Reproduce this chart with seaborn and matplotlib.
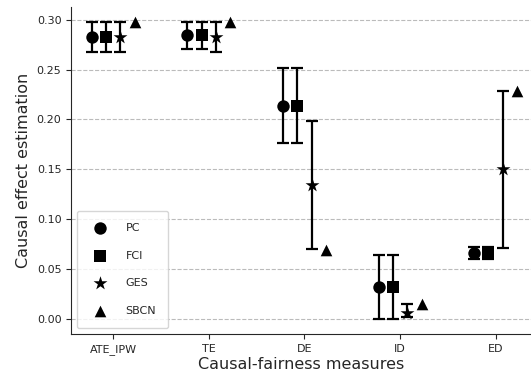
import numpy as np
import pandas as pd
import matplotlib
matplotlib.use('Agg')
import matplotlib.pyplot as plt
import seaborn as sns

measures = ['ATE_IPW', 'TE', 'DE', 'ID', 'ED']
methods = ['PC', 'FCI', 'GES', 'SBCN']

pc_mean = [0.283, 0.285, 0.214, 0.032, 0.066]
pc_low = [0.268, 0.271, 0.176, 0.000, 0.060]
pc_high = [0.298, 0.298, 0.252, 0.064, 0.072]

fci_mean = [0.283, 0.285, 0.214, 0.032, 0.066]
fci_low = [0.268, 0.271, 0.176, 0.000, 0.060]
fci_high = [0.298, 0.298, 0.252, 0.064, 0.072]

ges_mean = [0.283, 0.283, 0.134, 0.006, 0.150]
ges_low = [0.268, 0.268, 0.070, 0.002, 0.071]
ges_high = [0.298, 0.298, 0.198, 0.015, 0.229]

sbcn_mean = [0.298, 0.298, 0.069, 0.015, 0.229]

offsets = {'PC': -0.225, 'FCI': -0.075, 'GES': 0.075, 'SBCN': 0.225}
markers = {'PC': 'o', 'FCI': 's', 'GES': '*', 'SBCN': '^'}
sizes = {'PC': 80, 'FCI': 70, 'GES': 110, 'SBCN': 70}

rows = []
for m, means, lows, highs in [('PC', pc_mean, pc_low, pc_high),
                              ('FCI', fci_mean, fci_low, fci_high),
                              ('GES', ges_mean, ges_low, ges_high),
                              ('SBCN', sbcn_mean, None, None)]:
    for i, meas in enumerate(measures):
        rows.append({'method': m, 'measure': meas, 'x': i + offsets[m], 'y': means[i],
                     'low': lows[i] if lows else np.nan,
                     'high': highs[i] if highs else np.nan})
df = pd.DataFrame(rows)

sns.set_style('ticks')
plt.rcParams['font.family'] = ['DejaVu Sans']

fig = plt.figure(figsize=(5.31, 3.76), dpi=100)
ax = fig.add_axes([0.134, 0.112, 0.866, 0.87])

# error bars first
for m in ['PC', 'FCI', 'GES']:
    d = df[df['method'] == m]
    ax.errorbar(d['x'], d['y'], yerr=[d['y'] - d['low'], d['high'] - d['y']],
                fmt='none', ecolor='black', elinewidth=1.6, capsize=4.5, capthick=1.6, zorder=2)

for m in methods:
    d = df[df['method'] == m]
    sns.scatterplot(data=d, x='x', y='y', marker=markers[m], s=sizes[m], color='black',
                    edgecolor='black', linewidth=0, label=m, ax=ax, zorder=3)

ax.set_xticks(range(len(measures)))
ax.set_xticklabels(measures)
ax.set_xlim(-0.44, 4.37)
ax.set_ylim(-0.015, 0.313)
ax.set_yticks(np.arange(0, 0.31, 0.05))
ax.tick_params(labelsize=8)
ax.yaxis.grid(True, linestyle='--', color='#bbbbbb', linewidth=0.8)
ax.set_axisbelow(True)
sns.despine(ax=ax)
ax.set_xlabel('Causal-fairness measures', fontsize=11.5, labelpad=2)
ax.set_ylabel('Causal effect estimation', fontsize=11.5)

ax.legend(loc='lower left', fontsize=8, labelspacing=1.6, borderpad=1.1,
          handletextpad=1.3, frameon=True, borderaxespad=0.5)

fig.savefig('out.png', dpi=100)
